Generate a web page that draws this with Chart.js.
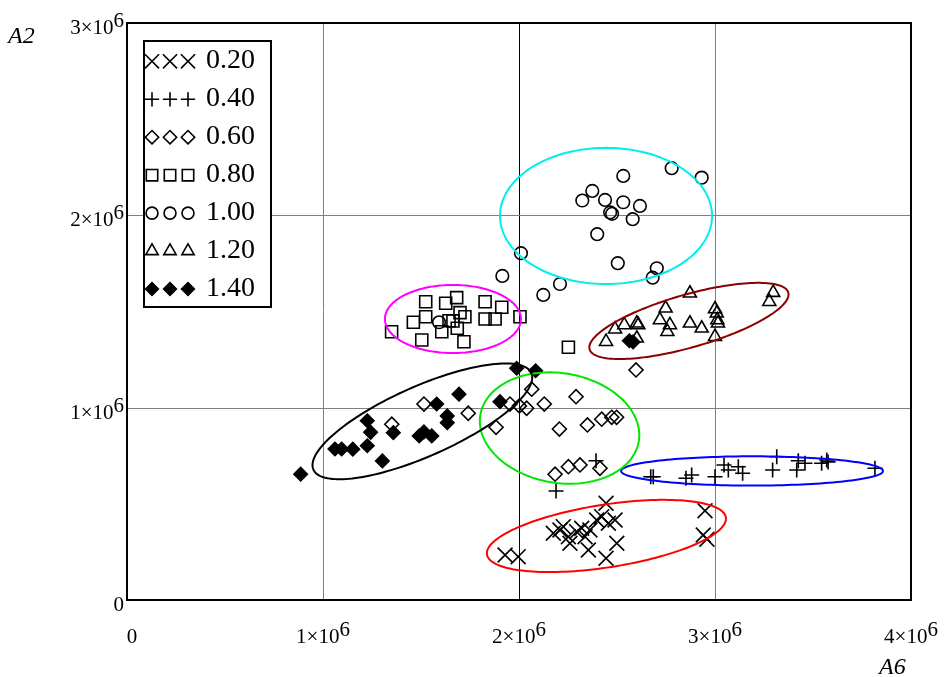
<!DOCTYPE html>
<html><head><meta charset="utf-8">
<script src="https://cdn.jsdelivr.net/npm/chart.js@4/dist/chart.umd.min.js"></script>
<style>html,body{margin:0;padding:0;background:#fff}canvas{display:block}</style>
</head><body>
<canvas id="c" width="944" height="677"></canvas>
<script>
// ---- data ----
const seriesLabels = ['0.20','0.40','0.60','0.80','1.00','1.20','1.40'];

const x020 = [1.929e6,1.996e6,2.175e6,2.209e6,2.226e6,2.252e6,2.260e6,2.294e6,2.320e6,2.337e6,2.362e6,2.354e6,2.396e6,2.422e6,2.456e6,2.490e6,2.499e6,2.444e6,2.444e6,2.949e6,2.940e6,2.959e6];
const y020 = [0.234e6,0.225e6,0.347e6,0.364e6,0.381e6,0.329e6,0.295e6,0.355e6,0.373e6,0.329e6,0.364e6,0.260e6,0.416e6,0.433e6,0.399e6,0.416e6,0.295e6,0.217e6,0.503e6,0.464e6,0.338e6,0.316e6];

const x040 = [2.189e6,2.393e6,2.672e6,2.685e6,2.852e6,2.881e6,3.000e6,3.046e6,3.068e6,3.119e6,3.141e6,3.294e6,3.315e6,3.417e6,3.425e6,3.459e6,3.544e6,3.570e6,3.577e6,3.816e6];
const y040 = [0.567e6,0.724e6,0.641e6,0.641e6,0.633e6,0.650e6,0.641e6,0.702e6,0.676e6,0.693e6,0.659e6,0.676e6,0.745e6,0.676e6,0.724e6,0.711e6,0.711e6,0.728e6,0.718e6,0.685e6];

const x060 = [1.515e6,1.351e6,1.741e6,1.883e6,1.954e6,2.002e6,2.039e6,2.065e6,2.129e6,2.291e6,2.206e6,2.349e6,2.422e6,2.473e6,2.498e6,2.184e6,2.252e6,2.311e6,2.413e6,2.597e6];
const y060 = [1.019e6,0.914e6,0.971e6,0.898e6,1.019e6,1.009e6,0.997e6,1.096e6,1.019e6,1.057e6,0.889e6,0.910e6,0.940e6,0.950e6,0.950e6,0.654e6,0.693e6,0.702e6,0.685e6,1.196e6];

const x080 = [1.524e6,1.626e6,1.682e6,1.827e6,1.912e6,1.524e6,1.461e6,1.643e6,1.663e6,1.699e6,1.724e6,1.827e6,1.878e6,2.005e6,1.350e6,1.504e6,1.606e6,1.685e6,1.719e6,2.252e6];
const y080 = [1.551e6,1.543e6,1.572e6,1.551e6,1.522e6,1.473e6,1.444e6,1.452e6,1.451e6,1.494e6,1.473e6,1.461e6,1.461e6,1.473e6,1.395e6,1.352e6,1.395e6,1.413e6,1.343e6,1.314e6];

const x100 = [2.779e6,2.932e6,2.532e6,2.374e6,2.323e6,2.439e6,2.532e6,2.617e6,2.465e6,2.475e6,2.580e6,2.399e6,2.010e6,2.504e6,2.703e6,2.682e6,1.915e6,2.209e6,2.124e6,1.592e6];
const y100 = [2.245e6,2.196e6,2.205e6,2.127e6,2.077e6,2.080e6,2.068e6,2.049e6,2.015e6,2.008e6,1.980e6,1.902e6,1.803e6,1.751e6,1.725e6,1.676e6,1.685e6,1.643e6,1.586e6,1.444e6];

const x120 = [2.872e6,3.297e6,3.277e6,2.748e6,3.000e6,3.009e6,2.719e6,2.770e6,2.872e6,2.932e6,3.012e6,3.015e6,2.490e6,2.537e6,2.601e6,2.609e6,2.757e6,2.444e6,2.601e6,3.000e6];
const y120 = [1.595e6,1.598e6,1.551e6,1.517e6,1.513e6,1.491e6,1.456e6,1.430e6,1.439e6,1.413e6,1.456e6,1.439e6,1.408e6,1.430e6,1.439e6,1.430e6,1.395e6,1.343e6,1.361e6,1.369e6];

const x140 = [0.886e6,1.061e6,1.095e6,1.152e6,1.226e6,1.226e6,1.243e6,1.303e6,1.359e6,1.491e6,1.515e6,1.555e6,1.580e6,1.634e6,1.634e6,1.694e6,1.903e6,1.988e6,2.085e6,2.563e6,2.582e6];
const y140 = [0.654e6,0.785e6,0.785e6,0.784e6,0.802e6,0.932e6,0.872e6,0.723e6,0.870e6,0.853e6,0.874e6,0.853e6,1.019e6,0.957e6,0.922e6,1.070e6,1.031e6,1.205e6,1.192e6,1.348e6,1.342e6];

// ellipses (one per series): centre, semi-axes (data units), rotation in degrees
const ellCX    = [2.446e6, 3.189e6, 2.207e6, 1.663e6, 2.444e6, 2.867e6, 1.507e6];
const ellCY    = [0.333e6, 0.671e6, 0.894e6, 1.461e6, 1.997e6, 1.451e6, 0.929e6];
const ellA     = [0.617e6, 0.668e6, 0.410e6, 0.347e6, 0.541e6, 0.528e6, 0.610e6];
const ellB     = [0.163e6, 0.076e6, 0.285e6, 0.177e6, 0.354e6, 0.137e6, 0.181e6];
const ellAngle = [9, 0, -10, 0, 0, 16.3, 24.4];

// ticks
const xTickValues = [0, 1e6, 2e6, 3e6, 4e6];
const xTickBase   = ['0', '1×10', '2×10', '3×10', '4×10'];
const xTickSup    = ['', '6', '6', '6', '6'];
const yTickValues = [0, 1e6, 2e6, 3e6];
const yTickBase   = ['0', '1×10', '2×10', '3×10'];
const yTickSup    = ['', '6', '6', '6'];
const xAxisTitle = 'A6';
const yAxisTitle = 'A2';

// ---- styles ----
const xs = [x020, x040, x060, x080, x100, x120, x140];
const ys = [y020, y040, y060, y080, y100, y120, y140];
const ellColors = ['#ff0000', '#0000ff', '#00e600', '#ff00ff', '#00eeee', '#8b0000', '#000000'];
const markStyle = [
  {style:'crossRot', r:10.5, fill:'rgba(0,0,0,0)', bw:1.6},
  {style:'cross',    r:7.5,  fill:'rgba(0,0,0,0)', bw:1.6},
  {style:'rectRot',  r:7,    fill:'rgba(0,0,0,0)', bw:1.6},
  {style:'rect',     r:8.5,  fill:'rgba(0,0,0,0)', bw:1.6},
  {style:'circle',   r:6.3,  fill:'rgba(0,0,0,0)', bw:1.6},
  {style:'triangle', r:7.5,  fill:'rgba(0,0,0,0)', bw:1.6},
  {style:'rectRot',  r:7,    fill:'#000000',       bw:1.2}
];
const SERIF = '"Liberation Serif", "Times New Roman", serif';

const gridPlugin = {
  id: 'gridFrame',
  beforeDatasetsDraw(chart) {
    const {ctx, chartArea: a, scales: {x, y}} = chart;
    ctx.save();
    ctx.lineWidth = 1;
    xTickValues.forEach(v => {
      if (v <= x.min || v >= x.max) return;
      const px = Math.round(x.getPixelForValue(v)) + 0.5;
      ctx.strokeStyle = v === 2e6 ? '#000' : '#808080';
      ctx.beginPath(); ctx.moveTo(px, a.top); ctx.lineTo(px, a.bottom); ctx.stroke();
    });
    yTickValues.forEach(v => {
      if (v <= y.min || v >= y.max) return;
      const py = Math.round(y.getPixelForValue(v)) + 0.5;
      ctx.strokeStyle = '#808080';
      ctx.beginPath(); ctx.moveTo(a.left, py); ctx.lineTo(a.right, py); ctx.stroke();
    });
    ctx.restore();
  },
  afterDraw(chart) {
    const {ctx, chartArea: a, scales: {x, y}} = chart;
    ctx.save();
    ctx.strokeStyle = '#000'; ctx.lineWidth = 2;
    ctx.strokeRect(a.left, a.top, a.right - a.left, a.bottom - a.top);
    // tick labels
    ctx.fillStyle = '#000';
    ctx.font = '21px ' + SERIF;
    ctx.textBaseline = 'alphabetic';
    yTickValues.forEach((v, i) => {
      const py = y.getPixelForValue(v);
      const wb = ctx.measureText(yTickBase[i]).width;
      const ws = yTickSup[i] ? ctx.measureText(yTickSup[i]).width : 0;
      const right = a.left - 3;
      ctx.textAlign = 'left';
      ctx.fillText(yTickBase[i], right - ws - wb, py + 11);
      if (ws) ctx.fillText(yTickSup[i], right - ws, py + 4);
    });
    xTickValues.forEach((v, i) => {
      const px = x.getPixelForValue(v) + (v === 0 ? 5 : 0);
      const wb = ctx.measureText(xTickBase[i]).width;
      const ws = xTickSup[i] ? ctx.measureText(xTickSup[i]).width : 0;
      const left = px - (wb + ws) / 2;
      ctx.textAlign = 'left';
      ctx.fillText(xTickBase[i], left, a.bottom + 43);
      if (ws) ctx.fillText(xTickSup[i], left + wb, a.bottom + 36);
    });
    // axis titles
    ctx.font = 'italic 24px ' + SERIF;
    ctx.textAlign = 'left';
    ctx.fillText(yAxisTitle, 8, 43);
    ctx.fillText(xAxisTitle, 879, 674);
    ctx.restore();
  }
};

const ellipsePlugin = {
  id: 'ellipses',
  afterDatasetsDraw(chart) {
    const {ctx, scales: {x, y}} = chart;
    ctx.save();
    ctx.lineWidth = 2;
    for (let i = 0; i < ellCX.length; i++) {
      const th = ellAngle[i] * Math.PI / 180;
      ctx.beginPath();
      for (let k = 0; k <= 160; k++) {
        const t = k / 160 * 2 * Math.PI;
        const dx = ellA[i] * Math.cos(t) * Math.cos(th) - ellB[i] * Math.sin(t) * Math.sin(th);
        const dy = ellA[i] * Math.cos(t) * Math.sin(th) + ellB[i] * Math.sin(t) * Math.cos(th);
        const px = x.getPixelForValue(ellCX[i] + dx);
        const py = y.getPixelForValue(ellCY[i] + dy);
        if (k === 0) ctx.moveTo(px, py); else ctx.lineTo(px, py);
      }
      ctx.closePath();
      ctx.strokeStyle = ellColors[i];
      ctx.stroke();
    }
    ctx.restore();
  }
};

const legendPlugin = {
  id: 'customLegend',
  afterDraw(chart) {
    const ctx = chart.ctx;
    const bx = 144, by = 41, bw = 127, bh = 266;
    ctx.save();
    ctx.fillStyle = '#fff';
    ctx.fillRect(bx, by, bw, bh);
    ctx.strokeStyle = '#000'; ctx.lineWidth = 2;
    ctx.strokeRect(bx, by, bw, bh);
    ctx.font = '28px ' + SERIF;
    ctx.textAlign = 'left';
    ctx.textBaseline = 'alphabetic';
    seriesLabels.forEach((lab, i) => {
      const base = 68.3 + i * 37.95;
      const cy = base - 7;
      const m = markStyle[i];
      [152, 170, 188].forEach(mx => {
        ctx.save();
        ctx.strokeStyle = '#000';
        ctx.fillStyle = m.fill;
        ctx.lineWidth = m.bw;
        Chart.helpers.drawPoint(ctx, {pointStyle: m.style, radius: m.r * 0.95, rotation: 0, borderWidth: m.bw}, mx, cy);
        ctx.restore();
      });
      ctx.fillStyle = '#000';
      ctx.fillText(lab, 206, base);
    });
    ctx.restore();
  }
};

new Chart(document.getElementById('c'), {
  type: 'scatter',
  data: {
    datasets: seriesLabels.map((lab, i) => ({
      label: lab,
      data: xs[i].map((v, j) => ({x: v, y: ys[i][j]})),
      pointStyle: markStyle[i].style,
      pointRadius: markStyle[i].r,
      pointHoverRadius: markStyle[i].r,
      pointBorderColor: '#000',
      pointBackgroundColor: markStyle[i].fill,
      pointBorderWidth: markStyle[i].bw,
      showLine: false
    }))
  },
  options: {
    responsive: false,
    animation: false,
    events: [],
    layout: {padding: {left: 127, right: 33, top: 23, bottom: 77}},
    plugins: {legend: {display: false}, tooltip: {enabled: false}},
    scales: {
      x: {type: 'linear', min: 0, max: 4e6, display: false},
      y: {type: 'linear', min: 0, max: 3e6, display: false}
    }
  },
  plugins: [gridPlugin, ellipsePlugin, legendPlugin]
});
</script>
</body></html>
